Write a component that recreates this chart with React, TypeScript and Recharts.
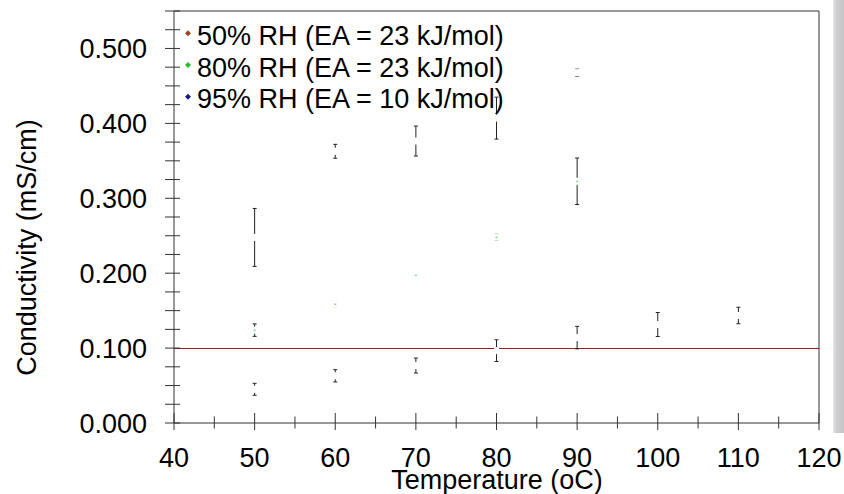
import React from 'react';
import { ScatterChart, Scatter, XAxis, YAxis, ErrorBar, ReferenceLine, Label, Legend } from 'recharts';

// ---- data ----
const rh50Temps = [50, 60, 70, 80, 90, 100, 110];
const rh50Values = [0.045, 0.063, 0.0767, 0.0966, 0.114, 0.1315, 0.1435];
const rh50Errors = [0.008, 0.0082, 0.01, 0.0145, 0.015, 0.016, 0.011];

const rh80Temps = [50, 60, 70, 80, 90];
const rh80Values = [0.124, 0.1588, 0.1975, 0.248, 0.3227];
const rh80Errors = [0.0083, 0.0035, 0.0012, 0.004, 0.031];

const rh95Temps = [50, 60, 70, 80, 90];
const rh95Values = [0.2477, 0.3627, 0.3764, 0.407, 0.4677];
const rh95Errors = [0.0387, 0.0093, 0.02, 0.028, 0.0047];

const seriesNames = ['50% RH (EA = 23 kJ/mol)', '80% RH (EA = 23 kJ/mol)', '95% RH (EA = 10 kJ/mol)'];
const seriesColors = ['#a0451c', '#22c02a', '#1c1c8c'];
const seriesDotVisible = [false, true, false];

const xTicks = [40, 45, 50, 55, 60, 65, 70, 75, 80, 85, 90, 95, 100, 105, 110, 115, 120];
const yTicks = [0, 0.025, 0.05, 0.075, 0.1, 0.125, 0.15, 0.175, 0.2, 0.225, 0.25, 0.275, 0.3, 0.325, 0.35, 0.375, 0.4, 0.425, 0.45, 0.475, 0.5, 0.525, 0.55];
const xDomain = [40, 120];
const yDomain = [0, 0.55];
const referenceValue = 0.1;
const xTitle = 'Temperature (oC)';
const yTitle = 'Conductivity (mS/cm)';

const FONT = '"Liberation Sans", Arial, sans-serif';
const AXIS = '#333';

const build = (t: number[], v: number[], e: number[]) => t.map((tt, i) => ({ t: tt, v: v[i], e: e[i] }));
const seriesData = [
  build(rh50Temps, rh50Values, rh50Errors),
  build(rh80Temps, rh80Values, rh80Errors),
  build(rh95Temps, rh95Values, rh95Errors),
];

const YTick = (props: any) => {
  const { x, y, payload } = props;
  const v = payload.value;
  const major = Math.abs(v * 10 - Math.round(v * 10)) < 1e-6;
  return (
    <g>
      <line x1={x - 9} x2={x + 6} y1={y} y2={y} stroke={AXIS} strokeWidth={1} />
      {major && (
        <text x={x - 27} y={y + 9.5} textAnchor="end" fontSize={27} fontFamily={FONT} fill="#000">
          {v.toFixed(3)}
        </text>
      )}
    </g>
  );
};

const XTick = (props: any) => {
  const { x, y, payload } = props;
  const v = payload.value;
  const major = v % 10 === 0;
  return (
    <g>
      <line x1={x} x2={x} y1={major ? y - 10 : y - 6.5} y2={major ? y + 7 : y + 5.5} stroke={AXIS} strokeWidth={1} />
      {major && (
        <text x={x} y={y + 44} textAnchor="middle" fontSize={27} fontFamily={FONT} fill="#000">
          {v}
        </text>
      )}
    </g>
  );
};

const makeShape = (color: string, dot: boolean) => (props: any) => {
  const { cx, cy } = props;
  if (cx == null || cy == null) return <g />;
  return (
    <g>
      <rect x={cx - 2.5} y={cy - 3.5} width={5} height={7} fill="#fff" />
      {dot && <rect x={cx - 1} y={cy - 0.5} width={2} height={1.5} fill={color} fillOpacity={0.55} />}
    </g>
  );
};

const LegendContent = () => (
  <svg width={380} height={110} style={{ display: 'block' }}>
    {seriesNames.map((name, i) => {
      const my = 23.3 + 31.7 * i;
      return (
        <g key={name}>
          <polygon points={`${8},${my - 3} ${11},${my} ${8},${my + 3} ${5},${my}`} fill={seriesColors[i]} />
          <text x={17} y={35 + 31.7 * i} fontSize={27} fontFamily={FONT} fill="#000">
            {name}
          </text>
        </g>
      );
    })}
  </svg>
);

export default function App() {
  return (
    <div style={{ position: 'absolute', left: 0, top: 0, width: 844, height: 494, background: '#fff' }}>
      <ScatterChart width={844} height={494} margin={{ top: 11, right: 25, bottom: 21, left: 0 }}>
        <XAxis
          type="number"
          dataKey="t"
          domain={xDomain}
          ticks={xTicks}
          interval={0}
          height={50}
          tickSize={0}
          tickMargin={0}
          tickLine={false}
          axisLine={{ stroke: AXIS }}
          tick={<XTick />}
          allowDataOverflow
        >
          <Label
            content={() => (
              <text x={497} y={489} textAnchor="middle" fontSize={27} fontFamily={FONT} fill="#000">
                {xTitle}
              </text>
            )}
          />
        </XAxis>
        <YAxis
          type="number"
          dataKey="v"
          domain={yDomain}
          ticks={yTicks}
          interval={0}
          width={174}
          tickSize={0}
          tickMargin={0}
          tickLine={false}
          axisLine={{ stroke: AXIS }}
          tick={<YTick />}
          allowDataOverflow
        >
          <Label
            content={() => (
              <text transform="translate(36,247.5) rotate(-90)" textAnchor="middle" fontSize={27} fontFamily={FONT} fill="#000">
                {yTitle}
              </text>
            )}
          />
        </YAxis>
        <ReferenceLine y={yDomain[1]} stroke={AXIS} strokeWidth={1} ifOverflow="visible" />
        <ReferenceLine x={xDomain[1]} stroke={AXIS} strokeWidth={1} ifOverflow="visible" />
        <ReferenceLine y={referenceValue} stroke="#a01c1c" strokeWidth={1} shapeRendering="crispEdges" />
        {seriesData.map((d, i) => (
          <Scatter
            key={seriesNames[i]}
            name={seriesNames[i]}
            data={d}
            fill={seriesColors[i]}
            isAnimationActive={false}
            shape={makeShape(seriesColors[i], seriesDotVisible[i])}
          >
            <ErrorBar dataKey="e" direction="y" width={2} stroke="#222" strokeWidth={1} isAnimationActive={false} />
          </Scatter>
        ))}
        <Legend
          layout="vertical"
          align="center"
          verticalAlign="middle"
          wrapperStyle={{ position: 'absolute', left: 180, top: 10, width: 380, height: 110 }}
          content={<LegendContent />}
        />
      </ScatterChart>
      <div
        style={{
          position: 'absolute',
          left: 833,
          top: 0,
          width: 11,
          height: 433,
          background: 'linear-gradient(to right, #e6e6e8 0%, #cfcfd2 30%, #c4c4c8 100%)',
        }}
      />
    </div>
  );
}
